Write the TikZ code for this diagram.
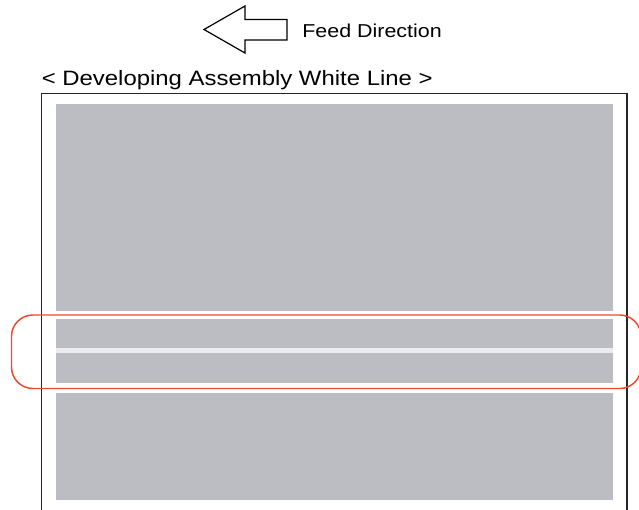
\documentclass[tikz,border=0pt]{standalone}
\usepackage{fontspec}
\newfontfamily\labelfont[FakeStretch=1.15]{Liberation Sans}
\usepackage{xcolor}
\definecolor{panel}{RGB}{188,189,194}
\definecolor{streak}{RGB}{236,236,240}
\definecolor{zonered}{RGB}{236,72,44}
\usetikzlibrary{positioning}

\begin{document}
\begin{tikzpicture}[x=0.75pt,y=-0.75pt,font=\labelfont]
  \useasboundingbox (0,0) rectangle (639,510);
  \clip (0,0) rectangle (639,510);
  \draw[line width=0.9pt,line join=miter] (204,29.5) -- (245,6) -- (245,19.5) -- (287,19.5) -- (287,40) -- (245,40) -- (245,53) -- cycle;
  \node[anchor=base west,inner sep=0pt,font=\labelfont\fontsize{14}{17}\selectfont] (feed) at (302,37.3) {Feed Direction};
  \node[anchor=base west,inner sep=0pt,font=\labelfont\fontsize{15.6}{18}\selectfont] (title) at (41.5,85.7) {< Developing Assembly White Line >};
  \fill[panel] (56,104.5) rectangle (613,311);
  \fill[panel] (56,319) rectangle (613,348);
  \fill[streak] (56,348) rectangle (613,353);
  \fill[panel] (56,353) rectangle (613,383.3);
  \fill[panel] (56,393.3) rectangle (613,500);
  \draw[line width=1.2pt,black!85] (41.5,515) -- (41.5,93.5) -- (627,93.5) -- (627,515);
  \draw[zonered,line width=1.1pt,rounded corners=16pt] (11.5,315) rectangle (641,388.5);
\end{tikzpicture}
\end{document}
